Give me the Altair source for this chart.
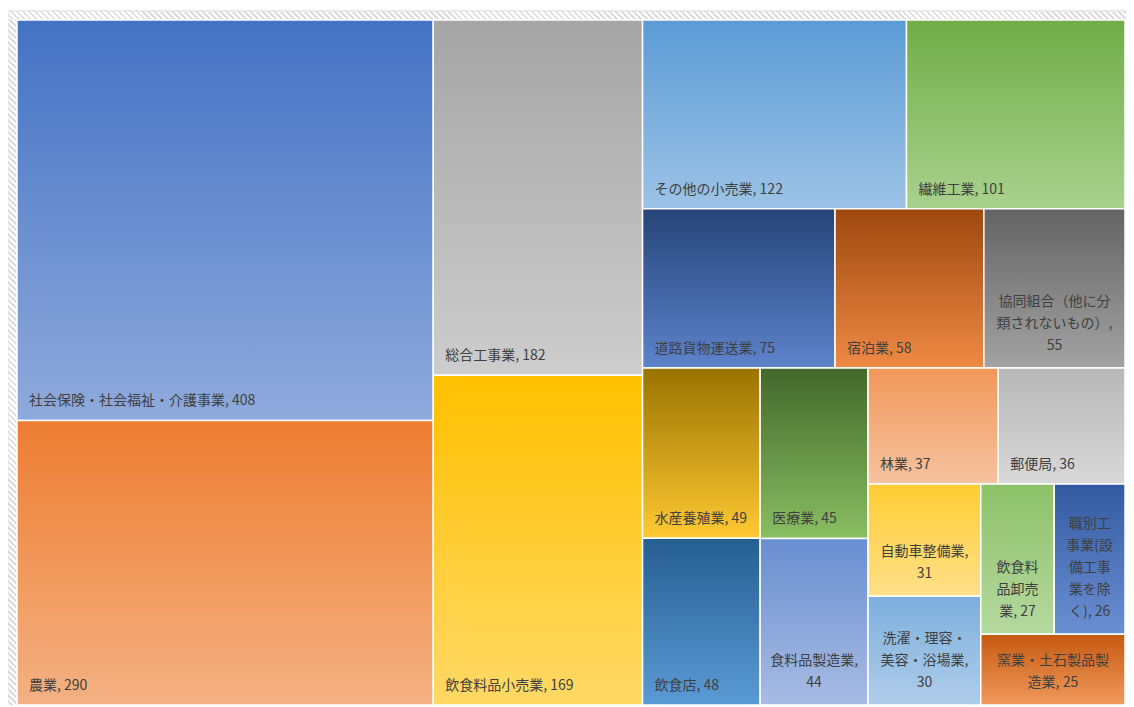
import altair as alt
import pandas as pd

# ---- data ----
names = ["社会保険・社会福祉・介護事業", "農業", "総合工事業", "飲食料品小売業", "その他の小売業",
         "繊維工業", "道路貨物運送業", "宿泊業", "協同組合（他に分類されないもの）", "水産養殖業",
         "飲食店", "医療業", "食料品製造業", "林業", "郵便局", "自動車整備業",
         "洗濯・理容・美容・浴場業", "飲食料品卸売業", "職別工事業(設備工事業を除く)", "窯業・土石製品製造業"]
values = [408, 290, 182, 169, 122, 101, 75, 58, 55, 49, 48, 45, 44, 37, 36, 31, 30, 27, 26, 25]
labels = ["社会保険・社会福祉・介護事業, 408", "農業, 290", "総合工事業, 182", "飲食料品小売業, 169",
          "その他の小売業, 122", "繊維工業, 101", "道路貨物運送業, 75", "宿泊業, 58",
          "協同組合（他に分\n類されないもの）,\n55", "水産養殖業, 49", "飲食店, 48", "医療業, 45",
          "食料品製造業,\n44", "林業, 37", "郵便局, 36", "自動車整備業,\n31",
          "洗濯・理容・\n美容・浴場業,\n30", "飲食料\n品卸売\n業, 27", "職別工\n事業(設\n備工事\n業を除\nく), 26",
          "窯業・土石製品製\n造業, 25"]
top_colors = ["#4472C4", "#ED7D31", "#A5A5A5", "#FFC000", "#5B9BD5", "#70AD47", "#264478", "#9E480E",
              "#636363", "#997300", "#255E91", "#43682B", "#698ED0", "#F1975A", "#B7B7B7", "#FFCD33",
              "#7CAFDD", "#8CC168", "#335AA1", "#C65911"]
bottom_colors = ["#8FAADC", "#F4B183", "#CDCDCD", "#FFD966", "#9DC3E6", "#A9D18E", "#5D83CB", "#EF8A45",
                 "#A3A3A3", "#FFC933", "#5A9BD6", "#89BE62", "#A8BCE4", "#F6C3A0", "#D8D8D8", "#FFE08A",
                 "#B0CDEA", "#B6D9A0", "#6B8FD3", "#F09A5C"]

LW, LH = 1116, 685      # layout space (aspect ratio of the original plot area)
PW, PH = 1108, 685      # drawn plot area in pixels
FRAME = 9               # width of the hatched chart-area border


def aspect_sum(areas, side):
    t = sum(areas) / side
    return sum(max(t / (a / t), (a / t) / t) for a in areas)


def squarify(vals, x, y, w, h):
    k = w * h / sum(vals)
    areas = [v * k for v in vals]
    out, i, n = [], 0, len(areas)
    while i < n:
        side = min(w, h)
        j = min(i + 2, n)
        best = aspect_sum(areas[i:j], side)
        while j < n:
            s = aspect_sum(areas[i:j + 1], side)
            if s > best:
                break
            best, j = s, j + 1
        strip = areas[i:j]
        t = sum(strip) / side
        if w >= h:
            yy = y
            for a in strip:
                out.append((x, x + t, yy, yy + a / t))
                yy += a / t
            x, w = x + t, w - t
        else:
            xx = x
            for a in strip:
                out.append((xx, xx + a / t, y, y + t))
                xx += a / t
            y, h = y + t, h - t
        i = j
    return out


def hatch(w, h, period=6.0, light="#ffffff", dark="#dcdcdc", frac=0.45):
    """Diagonal (45 deg) stripes as a hard-stop linear gradient in bounding-box units."""
    d2 = w * w + h * h
    n = int((w + h) / period) + 1
    stops = []
    for k in range(n):
        a, m, b = k / n, (k + 1 - frac) / n, (k + 1) / n
        stops += [alt.GradientStop(color=light, offset=a), alt.GradientStop(color=light, offset=m),
                  alt.GradientStop(color=dark, offset=m), alt.GradientStop(color=dark, offset=b)]
    return alt.LinearGradient(
        gradient="linear",
        x1=-h * w / d2, y1=h * h / d2, x2=w * w / d2, y2=-w * h / d2,
        stops=stops,
    )


rects = squarify(values, 0, 0, LW, LH)
df = pd.DataFrame({
    "name": names,
    "value": values,
    "label": labels,
    "x0": [r[0] for r in rects],
    "x1": [r[1] for r in rects],
    "y0": [r[2] for r in rects],
    "y1": [r[3] for r in rects],
})
df["cx"] = (df["x0"] + df["x1"]) / 2
df["nlines"] = df["label"].str.count("\n") + 1

xs = alt.Scale(domain=[0, LW], nice=False, zero=False)
ys = alt.Scale(domain=[0, LH], nice=False, zero=False, reverse=True)
FONT = "Noto Sans CJK JP"
LINE_H = 22

one = pd.DataFrame({"a": [0]})
frame_bg = alt.Chart(one).mark_rect(fill="#f2f2f2", stroke="#d4d4d4", strokeWidth=1).encode(
    x=alt.value(-FRAME), x2=alt.value(PW + 20), y=alt.value(-FRAME), y2=alt.value(PH + 20))
frame_top = alt.Chart(one).mark_rect(fill=hatch(PW + FRAME + 1, FRAME - 1)).encode(
    x=alt.value(-FRAME + 0.5), x2=alt.value(PW + 1), y=alt.value(-FRAME + 0.5), y2=alt.value(-0.5))
frame_left = alt.Chart(one).mark_rect(fill=hatch(FRAME - 1, PH + 1)).encode(
    x=alt.value(-FRAME + 0.5), x2=alt.value(-0.5), y=alt.value(-0.5), y2=alt.value(PH + 1))

layers = [frame_bg, frame_top, frame_left]
base = alt.Chart(df)
for nm, c0, c1 in zip(names, top_colors, bottom_colors):
    grad = alt.LinearGradient(
        gradient="linear", x1=0, y1=0, x2=0, y2=1,
        stops=[alt.GradientStop(color=c0, offset=0), alt.GradientStop(color=c1, offset=1)],
    )
    layers.append(
        base.transform_filter(alt.datum.name == nm)
        .mark_rect(fill=grad, stroke="white", strokeWidth=1.5)
        .encode(
            x=alt.X("x0:Q", scale=xs, axis=None),
            x2="x1:Q",
            y=alt.Y("y0:Q", scale=ys, axis=None),
            y2="y1:Q",
        )
    )

single = base.transform_filter("datum.nlines == 1").mark_text(
    align="left", baseline="alphabetic", dx=12, dy=-15, fontSize=14, font=FONT, color="#404040"
).encode(
    x=alt.X("x0:Q", scale=xs, axis=None),
    y=alt.Y("y1:Q", scale=ys, axis=None),
    text="label:N",
)
layers.append(single)
for n in sorted(set(df["nlines"]) - {1}):
    layers.append(
        base.transform_filter(f"datum.nlines == {n}").mark_text(
            align="center", baseline="bottom", dy=-15 - (n - 1) * LINE_H, fontSize=14, font=FONT,
            color="#404040", lineBreak="\n", lineHeight=LINE_H,
        ).encode(
            x=alt.X("cx:Q", scale=xs, axis=None),
            y=alt.Y("y1:Q", scale=ys, axis=None),
            text="label:N",
        )
    )

chart = alt.layer(*layers).properties(
    width=PW, height=PH,
    padding={"left": FRAME, "top": 12, "right": 1, "bottom": 0},
    autosize=alt.AutoSizeParams(type="none"),
    background="white",
).configure_view(stroke=None)

chart.save("out.html", embed_options={"renderer": "svg", "actions": False})
